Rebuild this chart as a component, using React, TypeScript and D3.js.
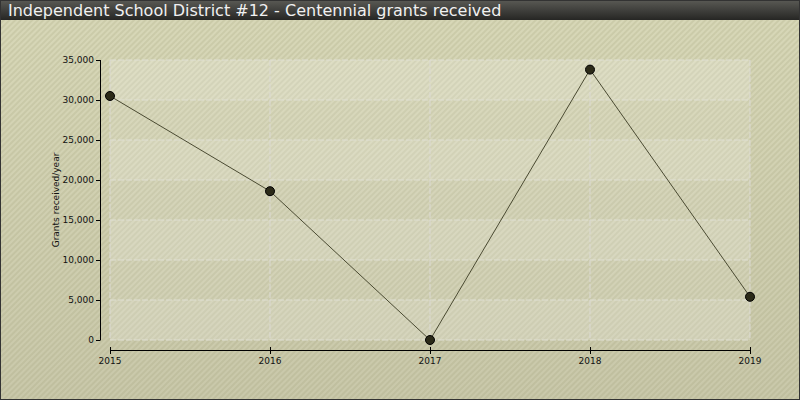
import React from "react";
import * as d3 from "d3";

const title = "Independent School District #12 - Centennial grants received";
const yAxisTitle = "Grants received/year";
const years = ["2015", "2016", "2017", "2018", "2019"];
const grants = [30500, 18600, 0, 33800, 5400];
const yTicks = [0, 5000, 10000, 15000, 20000, 25000, 30000, 35000];

const W = 800;
const H = 400;
const margin = { left: 110, right: 50, top: 60, bottom: 60 };

export default function App() {
  const x = d3
    .scalePoint<string>()
    .domain(years)
    .range([margin.left, W - margin.right]);
  const y = d3
    .scaleLinear()
    .domain([0, 35000])
    .range([H - margin.bottom, margin.top]);
  const fmt = d3.format(",");
  const line = d3
    .line<number>()
    .x((_, i) => x(years[i]) as number)
    .y((d) => y(d));
  const font = "Verdana, 'DejaVu Sans', sans-serif";
  const x0 = margin.left;
  const x1 = W - margin.right;

  return (
    <svg
      width={W}
      height={H}
      style={{ position: "absolute", left: 0, top: 0 }}
      fontFamily={font}
    >
      <defs>
        <linearGradient id="bg" x1="0" y1="0" x2="0" y2="1">
          <stop offset="0" stopColor="#d8d8b8" />
          <stop offset="1" stopColor="#c9c8aa" />
        </linearGradient>
        <linearGradient id="titlebg" x1="0" y1="0" x2="0" y2="1">
          <stop offset="0" stopColor="#5a5a55" />
          <stop offset="1" stopColor="#262624" />
        </linearGradient>
        <pattern
          id="stripes"
          patternUnits="userSpaceOnUse"
          width="4"
          height="4"
          patternTransform="rotate(45)"
        >
          <rect x="0" y="0" width="2" height="4" fill="#7a7a50" fillOpacity="0.13" />
        </pattern>
      </defs>
      <rect x={0} y={0} width={W} height={H} fill="url(#bg)" />
      <rect x={0} y={0} width={W} height={H} fill="url(#stripes)" />

      {/* plot bands */}
      {yTicks.slice(0, -1).map((t, i) => (
        <rect
          key={"band" + t}
          x={x0}
          y={y(yTicks[i + 1])}
          width={x1 - x0}
          height={y(t) - y(yTicks[i + 1])}
          fill="#ffffff"
          fillOpacity={i % 2 === 0 ? 0.2 : 0.1}
        />
      ))}

      {/* grid */}
      {yTicks.map((t) => (
        <line
          key={"gy" + t}
          x1={x0}
          x2={x1}
          y1={y(t)}
          y2={y(t)}
          stroke="#e0e0d4"
          strokeDasharray="6,2"
          strokeWidth={1}
        />
      ))}
      {years.map((yr) => (
        <line
          key={"gx" + yr}
          x1={x(yr)}
          x2={x(yr)}
          y1={y(35000)}
          y2={y(0)}
          stroke="#dcdad4"
          strokeDasharray="6,2"
          strokeWidth={1}
        />
      ))}

      {/* y axis */}
      <line x1={100.5} x2={100.5} y1={y(35000)} y2={y(0)} stroke="#000" />
      {yTicks.map((t) => (
        <g key={"yt" + t}>
          <line x1={96} x2={100.5} y1={y(t) + 0.5} y2={y(t) + 0.5} stroke="#000" />
          <text
            x={94}
            y={y(t)}
            dy="0.35em"
            textAnchor="end"
            fontSize={9}
            fill="#111"
          >
            {fmt(t)}
          </text>
        </g>
      ))}
      <text
        transform={`translate(59,${(y(0) + y(35000)) / 2}) rotate(-90)`}
        textAnchor="middle"
        fontSize={9}
        fill="#111"
      >
        {yAxisTitle}
      </text>

      {/* x axis */}
      <line x1={x0} x2={x1} y1={350.5} y2={350.5} stroke="#000" />
      {years.map((yr) => (
        <g key={"xt" + yr}>
          <line
            x1={(x(yr) as number) + 0.5}
            x2={(x(yr) as number) + 0.5}
            y1={347}
            y2={354}
            stroke="#000"
          />
          <text
            x={x(yr)}
            y={361}
            dy="0.35em"
            textAnchor="middle"
            fontSize={9}
            fill="#111"
          >
            {yr}
          </text>
        </g>
      ))}

      {/* series */}
      <path d={line(grants) ?? ""} fill="none" stroke="#4a4a32" strokeWidth={1} />
      {grants.map((v, i) => (
        <circle
          key={"pt" + i}
          cx={x(years[i])}
          cy={y(v)}
          r={4.5}
          fill="#2b2a18"
          stroke="#000"
          strokeWidth={1}
        />
      ))}

      {/* title bar */}
      <rect x={0} y={0} width={W} height={20} fill="url(#titlebg)" />
      <text x={8} y={10} dy="0.36em" fontSize={16} fill="#f0f0f0">
        {title}
      </text>

      <rect
        x={0.5}
        y={0.5}
        width={W - 1}
        height={H - 1}
        fill="none"
        stroke="#333"
      />
    </svg>
  );
}
